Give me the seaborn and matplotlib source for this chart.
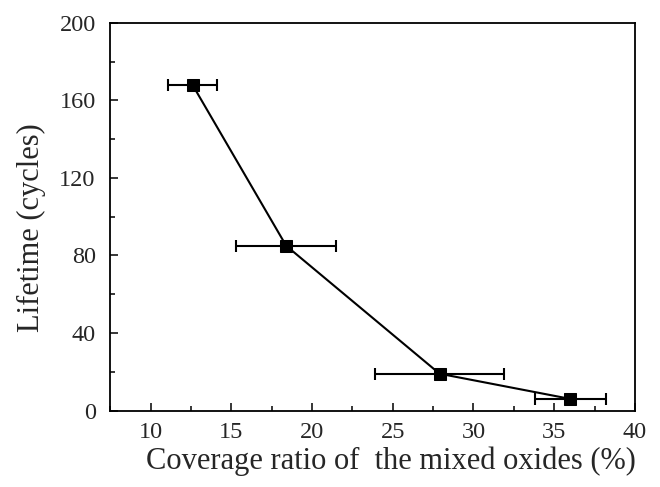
import numpy as np
import pandas as pd
import matplotlib
matplotlib.use("Agg")
import matplotlib.pyplot as plt
from matplotlib.ticker import MultipleLocator
import seaborn as sns

# Data
coverage = [12.6, 18.4, 27.9, 36.0]
coverage_err = [1.5, 3.1, 4.0, 2.2]
lifetime = [168, 85, 19, 6]

sns.set_theme(style="ticks")
plt.rcParams.update({
    "font.family": ["Liberation Serif", "DejaVu Serif"],
    "axes.linewidth": 1.3,
    "xtick.direction": "in", "ytick.direction": "in",
    "xtick.major.size": 6, "ytick.major.size": 6,
    "xtick.minor.size": 3.5, "ytick.minor.size": 3.5,
    "xtick.major.width": 1.3, "ytick.major.width": 1.3,
    "xtick.minor.width": 1.3, "ytick.minor.width": 1.3,
})

df = pd.DataFrame({"coverage": coverage, "lifetime": lifetime})

fig = plt.figure(figsize=(6.6, 4.87), dpi=100)
ax = fig.add_axes([0.167, 0.157, 0.795, 0.796])

ax.errorbar(coverage, lifetime, xerr=coverage_err, fmt="none", ecolor="black",
            elinewidth=1.5, capsize=4, capthick=1.5, zorder=2)
sns.lineplot(data=df, x="coverage", y="lifetime", ax=ax, color="black",
             linewidth=1.5, marker="s", markersize=9, markeredgecolor="black",
             zorder=3)

ax.set_xlim(7.5, 40)
ax.set_ylim(0, 200)
ax.xaxis.set_major_locator(MultipleLocator(5))
ax.xaxis.set_minor_locator(MultipleLocator(2.5))
ax.yaxis.set_major_locator(MultipleLocator(40))
ax.yaxis.set_minor_locator(MultipleLocator(20))
ax.tick_params(which="both", top=False, right=False, labelsize=17.5, pad=8)
ax.tick_params(axis="y", pad=10.5)
for s in ax.spines.values():
    s.set_color("black")

ax.set_xlabel("Coverage ratio of  the mixed oxides (%)", fontsize=22, va="center")
ax.set_ylabel("Lifetime (cycles)", fontsize=22, va="center")
ax.xaxis.set_label_coords(0.535, -0.132)
ax.yaxis.set_label_coords(-0.150, 0.471)

fig.savefig("out.png", dpi=100)
